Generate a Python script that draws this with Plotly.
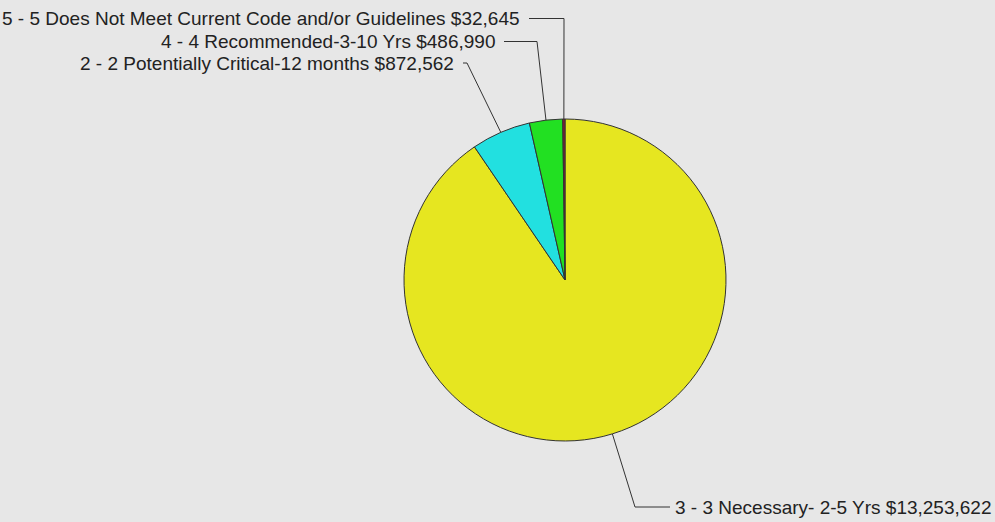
import math
import plotly.graph_objects as go

# ---- data ----
labels = [
    "3 - 3 Necessary- 2-5 Yrs",
    "2 - 2 Potentially Critical-12 months",
    "4 - 4 Recommended-3-10 Yrs",
    "5 - 5 Does Not Meet Current Code and/or Guidelines",
]
values = [13253622, 872562, 486990, 32645]
colors = ["#e6e620", "#22e0e0", "#22e022", "#8b1a3a"]

# ---- layout geometry (pixels) ----
W, H = 995, 522
CX, CY, R = 565, 280, 161

def px(x):
    return x / W

def py(y):
    return 1 - y / H

fig = go.Figure(go.Pie(
    labels=labels,
    values=values,
    marker=dict(colors=colors, line=dict(color="#333333", width=1)),
    sort=False,
    direction="clockwise",
    rotation=0,
    textinfo="none",
    hoverinfo="label+value",
    showlegend=False,
    domain=dict(x=[px(CX - R), px(CX + R)], y=[py(CY + R), py(CY - R)]),
))

# label placement: (text anchor x, text y, elbow x, anchor side)
placement = {
    0: (673, 507, 635, "left"),
    1: (456, 63, 467, "right"),
    2: (497, 41.5, 537, "right"),
    3: (522, 18.5, 564, "right"),
}

total = sum(values)
cum = 0.0
shapes = []
annotations = []
for i, v in enumerate(values):
    mid = (cum + v / 2) / total
    cum += v
    ang = 2 * math.pi * mid  # clockwise from 12 o'clock
    ax = CX + R * math.sin(ang)
    ay = CY - R * math.cos(ang)
    tx, ty, ex, side = placement[i]
    if side == "right":
        pts = [(tx + 7, ty), (ex, ty), (ax, ay)]
    else:
        pts = [(ax, ay), (ex, ty), (tx - 3, ty)]
    path = "M " + " L ".join(f"{px(x)},{py(y)}" for x, y in pts)
    shapes.append(dict(type="path", xref="paper", yref="paper", path=path,
                       line=dict(color="#333333", width=1)))
    text = f"{labels[i]} ${v:,}"
    annotations.append(dict(
        text=text, xref="paper", yref="paper", x=px(tx), y=py(ty),
        xanchor=side, yanchor="middle", showarrow=False,
        font=dict(family="Liberation Sans, Arial, sans-serif", size=19, color="#222222"),
    ))

fig.update_layout(
    width=W, height=H,
    margin=dict(l=0, r=0, t=0, b=0),
    paper_bgcolor="#e7e7e7",
    plot_bgcolor="#e7e7e7",
    shapes=shapes,
    annotations=annotations,
)

fig.write_html(
    "out.html",
    config={"displayModeBar": False},
    post_script="document.body.style.margin='0';document.body.style.background='#e7e7e7';",
)
